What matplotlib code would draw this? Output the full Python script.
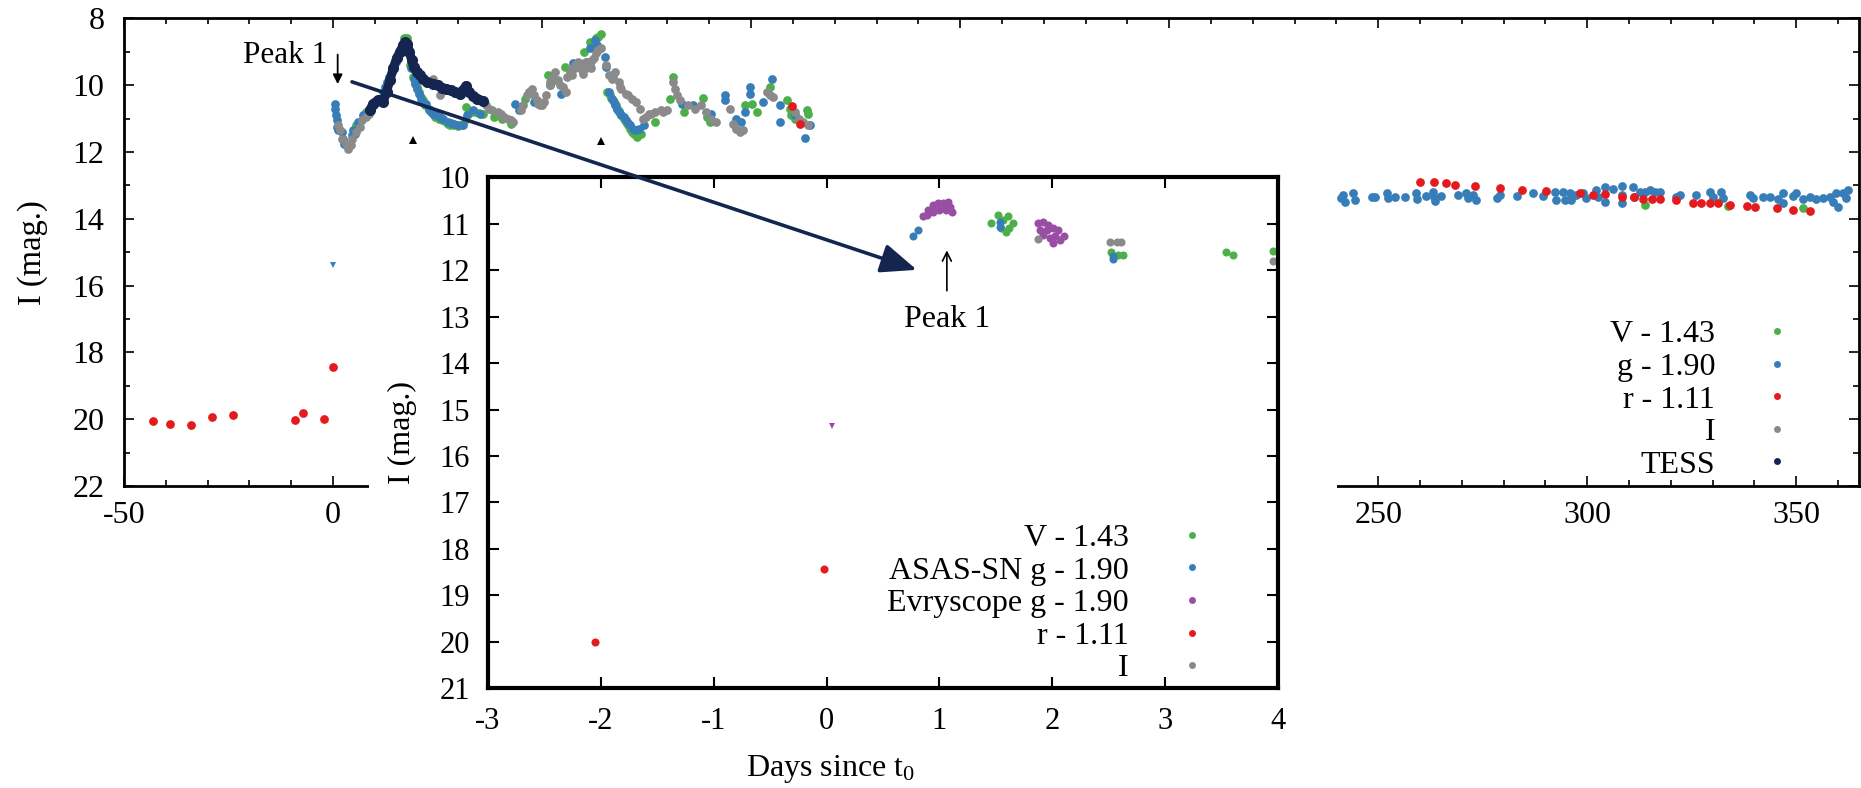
import matplotlib.pyplot as plt
from matplotlib.lines import Line2D
from matplotlib.patches import Rectangle, ConnectionPatch, ArrowStyle
from matplotlib.ticker import MultipleLocator

plt.rcParams['font.family'] = ['Liberation Serif', 'DejaVu Serif']
plt.rcParams['mathtext.default'] = 'regular'
plt.rcParams['axes.unicode_minus'] = False

# --- full light curve (days since t0, magnitude) ---
v_main = [(5.5, 11.2), (8.0, 10.8), (9.8, 10.5), (11.0, 10.4), (13.0, 9.95), (14.5, 9.5), (16.0, 8.95),
          (17.0, 8.6), (17.6, 8.6), (18.5, 9.4), (19.2, 9.75), (19.6, 9.9), (20.0, 10.05), (20.6, 10.2),
          (21.0, 10.35), (21.5, 10.45), (22.0, 10.6), (23.0, 10.75), (24.5, 10.95), (25.3, 11.0), (26.0, 11.05),
          (27.0, 11.1), (27.5, 11.15), (28.0, 11.18), (29.0, 11.2), (29.8, 11.22), (30.5, 11.2), (31.5, 11.05),
          (31.9, 10.65), (32.3, 10.85), (33.0, 10.8), (34.0, 10.8), (35.0, 10.82), (36.0, 10.85), (38.5, 10.95),
          (40.5, 11.0), (42.5, 11.15), (46.0, 10.4), (47.0, 10.2), (51.5, 9.7), (53.0, 9.85), (55.5, 9.45),
          (60.0, 9.0), (61.5, 8.7), (62.0, 8.75), (62.8, 8.6), (63.5, 8.55), (64.0, 8.48), (65.5, 10.2),
          (66.2, 10.3), (66.6, 10.38), (67.0, 10.45), (67.6, 10.58), (68.0, 10.7), (68.4, 10.78), (69.0, 10.9),
          (69.5, 11.0), (70.0, 11.1), (70.5, 11.2), (71.0, 11.3), (71.5, 11.4), (72.0, 11.45), (72.8, 11.55),
          (73.6, 11.45), (77.0, 11.1), (80.6, 10.4), (81.4, 9.75), (84.0, 10.8), (88.5, 10.37), (89.5, 10.95),
          (90.2, 11.1), (98.5, 10.6), (100.3, 10.55), (101.3, 10.8), (104.5, 10.05), (108.5, 10.45),
          (109.2, 10.7), (109.5, 10.9), (110.5, 11.0), (113.3, 10.75), (113.6, 10.85)]
g_main = [(0.5, 10.55), (0.6, 10.7), (0.7, 10.9), (0.9, 11.05), (1.0, 11.25), (1.3, 11.35), (2.1, 11.4),
          (2.4, 11.6), (2.7, 11.75), (4.5, 11.5), (4.9, 11.35), (5.3, 11.45), (6.0, 11.1), (7.2, 10.9),
          (9.5, 10.6), (10.5, 10.5), (11.0, 10.4), (12.0, 10.2), (12.5, 10.05), (13.0, 9.9), (13.5, 9.75),
          (14.0, 9.6), (14.5, 9.45), (15.0, 9.3), (15.5, 9.15), (16.0, 9.0), (16.4, 8.9), (16.8, 8.8),
          (18.6, 9.5), (19.3, 9.8), (19.7, 9.95), (20.0, 10.1), (20.5, 10.25), (21.0, 10.4), (21.5, 10.5),
          (22.3, 10.55), (23.0, 10.7), (23.5, 10.8), (24.0, 10.85), (24.7, 10.9), (25.5, 10.95), (26.3, 11.0),
          (27.5, 11.1), (28.3, 11.13), (29.0, 11.15), (30.0, 11.18), (31.1, 11.2), (32.0, 10.9), (33.5, 10.75),
          (35.1, 10.85), (43.5, 10.55), (44.5, 10.75), (48.0, 10.5), (52.0, 10.0), (54.5, 10.25), (57.5, 9.35),
          (60.5, 9.3), (61.4, 8.9), (62.6, 8.65), (63.2, 8.8), (65.0, 9.15), (65.2, 9.45), (66.0, 10.2),
          (66.8, 10.4), (67.2, 10.5), (67.5, 10.6), (68.0, 10.7), (68.5, 10.8), (69.0, 10.88), (69.5, 10.95),
          (70.0, 11.05), (70.5, 11.12), (71.0, 11.2), (71.8, 11.3), (72.5, 11.35), (73.2, 11.3), (74.5, 11.2),
          (83.5, 10.55), (86.0, 10.6), (90.5, 10.85), (93.7, 10.3), (93.8, 10.45), (96.5, 11.0), (97.5, 11.1),
          (98.5, 10.8), (99.7, 10.05), (99.8, 10.25), (102.9, 10.5), (104.9, 9.8), (106.9, 10.6),
          (107.0, 11.1), (110.5, 10.9), (112.9, 11.59), (114.0, 11.2)]
g_limit = [(0.0, 15.38)]
i_main = [(1.2, 11.2), (1.6, 11.35), (2.2, 11.6), (3.0, 11.75), (3.3, 11.8), (3.6, 11.9), (4.2, 11.8),
          (4.6, 11.6), (5.5, 11.4), (6.4, 11.25), (7.0, 11.05), (7.8, 10.95), (8.5, 10.85), (24.0, 9.8),
          (24.8, 10.0), (25.5, 10.3), (26.5, 10.1), (36.7, 10.6), (37.3, 10.7), (38.0, 10.75), (39.5, 10.8),
          (40.2, 10.85), (41.0, 10.95), (41.8, 11.0), (42.5, 11.05), (43.1, 11.1), (45.0, 10.75), (45.5, 10.6),
          (46.3, 10.3), (46.8, 10.2), (47.5, 10.1), (48.0, 10.3), (48.7, 10.45), (49.0, 10.55), (49.5, 10.6),
          (50.0, 10.6), (50.5, 10.5), (51.0, 10.3), (51.8, 10.0), (52.0, 9.9), (52.5, 9.8), (53.2, 9.6),
          (53.8, 9.85), (54.2, 10.0), (55.0, 10.05), (55.8, 10.2), (56.0, 9.75), (56.6, 9.6), (57.0, 9.55),
          (57.2, 9.7), (57.8, 9.5), (58.0, 9.4), (58.5, 9.3), (59.0, 9.45), (59.5, 9.55), (59.8, 9.65),
          (60.0, 9.35), (60.5, 9.5), (61.0, 9.3), (61.5, 9.4), (61.8, 9.5), (62.0, 9.25), (62.5, 9.2),
          (63.0, 9.05), (63.3, 8.95), (64.0, 8.9), (65.4, 9.4), (66.0, 9.7), (66.8, 9.8), (67.0, 9.75),
          (67.5, 9.6), (68.3, 9.9), (68.6, 10.05), (69.0, 10.1), (70.0, 10.25), (70.6, 10.3), (71.5, 10.4),
          (72.5, 10.5), (73.4, 10.7), (74.2, 11.0), (74.8, 10.95), (75.5, 10.85), (76.0, 10.85), (77.0, 10.8),
          (78.5, 10.75), (79.0, 10.8), (80.0, 10.75), (81.4, 9.9), (81.8, 10.1), (82.2, 10.3), (83.0, 10.45),
          (85.0, 10.6), (86.5, 10.7), (88.0, 10.6), (89.3, 10.8), (90.5, 11.0), (91.5, 11.1), (94.9, 10.7),
          (95.7, 11.15), (96.5, 11.3), (97.3, 11.4), (98.1, 11.35), (103.7, 10.2), (104.5, 10.3),
          (105.3, 10.35), (110.5, 10.8), (111.5, 11.0), (112.5, 11.1), (113.5, 11.2)]
r_main = [(-43.1, 20.04), (-38.9, 20.15), (-34.0, 20.18), (-29.0, 19.93), (-24.0, 19.88), (-9.1, 20.02),
          (-7.1, 19.81), (-2.1, 20.0), (0.0, 18.44), (109.9, 10.61), (111.8, 11.17)]
tess = [(8.8, 10.75), (9.6, 10.55), (10.8, 10.45), (12.0, 10.5), (12.8, 10.2), (13.6, 9.85), (14.4, 9.5),
        (15.2, 9.2), (16.0, 9.0), (16.8, 8.8), (17.3, 8.72), (17.8, 8.78), (18.3, 9.0), (18.8, 9.25),
        (19.3, 9.45), (20.0, 9.6), (20.7, 9.7), (21.5, 9.8), (22.5, 9.9), (24.0, 9.95), (25.0, 10.0),
        (26.0, 10.08), (27.1, 10.1), (28.2, 10.15), (29.2, 10.2), (30.3, 10.25), (31.0, 10.15), (31.9, 10.02),
        (32.5, 10.2), (33.5, 10.33), (34.5, 10.4), (35.9, 10.47)]

# late-time plateau
g_late = [(241.2, 13.39), (241.6, 13.29), (242.0, 13.49), (244.0, 13.24), (244.4, 13.44), (248.4, 13.34),
          (249.2, 13.34), (252.0, 13.24), (252.4, 13.39), (254.0, 13.34), (256.3, 13.36), (259.1, 13.22),
          (259.3, 13.42), (261.5, 13.32), (263.1, 13.19), (263.3, 13.36), (263.5, 13.46), (265.1, 13.32),
          (269.1, 13.29), (271.1, 13.22), (271.5, 13.39), (272.7, 13.29), (273.5, 13.44), (278.3, 13.39),
          (279.1, 13.29), (283.1, 13.32), (287.0, 13.24), (289.4, 13.32), (292.2, 13.19), (292.6, 13.44),
          (294.2, 13.19), (294.6, 13.44), (295.8, 13.24), (296.2, 13.44), (297.4, 13.29), (299.0, 13.22),
          (299.8, 13.39), (302.2, 13.14), (302.6, 13.34), (304.2, 13.04), (304.2, 13.49), (306.2, 13.12),
          (308.2, 13.02), (308.2, 13.29), (308.2, 13.54), (311.0, 13.06), (311.1, 13.34), (312.6, 13.19),
          (313.8, 13.19), (315.0, 13.14), (316.2, 13.19), (317.4, 13.19), (321.3, 13.34), (322.1, 13.29),
          (326.1, 13.29), (329.3, 13.19), (330.1, 13.34), (332.1, 13.19), (332.5, 13.39), (338.9, 13.29),
          (339.7, 13.39), (342.1, 13.36), (343.7, 13.34), (345.7, 13.42), (346.9, 13.24), (346.9, 13.54),
          (349.3, 13.32), (350.0, 13.24), (351.6, 13.42), (353.2, 13.34), (354.8, 13.42), (356.4, 13.39),
          (358.0, 13.34), (358.8, 13.49), (359.6, 13.22), (360.0, 13.64), (361.2, 13.24), (362.0, 13.39),
          (362.4, 13.14)]
r_late = [(260.1, 12.89), (263.3, 12.89), (266.2, 12.94), (268.3, 12.99), (273.2, 13.01), (279.2, 13.07),
          (284.3, 13.14), (290.2, 13.17), (298.2, 13.24), (301.4, 13.29), (304.3, 13.27), (308.3, 13.34),
          (311.2, 13.36), (313.4, 13.40), (315.4, 13.40), (317.3, 13.40), (321.3, 13.44), (325.3, 13.54),
          (327.3, 13.54), (329.3, 13.54), (331.3, 13.54), (334.1, 13.59), (338.1, 13.62), (340.2, 13.64),
          (345.3, 13.69), (349.2, 13.74), (353.2, 13.77)]
v_late = [(313.8, 13.59), (333.7, 13.62), (351.6, 13.69)]

peak_marks = [(19.2, 11.65), (64.0, 11.67)]

# --- zoom on the first days ---
v_in = [(1.46, 10.99), (1.52, 10.81), (1.56, 10.92), (1.61, 10.84), (1.62, 11.09), (1.65, 10.99),
        (1.59, 11.17), (1.55, 11.09), (2.52, 11.60), (2.58, 11.67), (2.63, 11.67), (3.54, 11.60),
        (3.60, 11.67), (3.96, 11.58)]
asas_in = [(0.767, 11.27), (0.812, 11.13), (1.54, 10.95), (1.54, 11.06), (2.54, 11.69), (2.54, 11.76)]
evry_in = [(0.856, 10.84), (0.90, 10.70), (0.94, 10.59), (0.99, 10.56), (1.03, 10.56), (1.08, 10.52),
           (1.09, 10.63), (1.11, 10.74), (1.06, 10.70), (1.00, 10.70), (0.94, 10.74), (0.89, 10.81),
           (1.05, 10.63), (1.87, 10.99), (1.92, 10.95), (1.96, 11.02), (2.01, 11.09), (2.05, 11.13),
           (2.10, 11.27), (2.07, 11.35), (2.01, 11.42), (1.98, 11.31), (1.92, 11.24), (1.89, 11.13),
           (1.95, 11.13), (2.02, 11.27)]
evry_limit = [(0.05, 15.35)]
r_in = [(-2.05, 20.0), (-0.02, 18.44)]
i_in = [(1.87, 11.33), (2.51, 11.38), (2.57, 11.38), (2.61, 11.40), (3.96, 11.81)]

main_labels = ['V - 1.43', 'g - 1.90', 'r - 1.11', 'I', 'TESS']
inset_labels = ['V - 1.43', 'ASAS-SN g - 1.90', 'Evryscope g - 1.90', 'r - 1.11', 'I']

green, blue, red, grey, purple, navy = '#4daf4a', '#377eb8', '#e41a1c', '#8a8a8a', '#984ea3', '#14264f'
ms_main = 6.3
ms_in = 5.8


def xy(points):
    return [p[0] for p in points], [p[1] for p in points]


fig = plt.figure(figsize=(18.61, 7.88), dpi=100)

# main panel
ax = fig.add_axes([0.0666, 0.38325, 0.93233, 0.5934])
ax.set_zorder(1)
ax.plot(*xy(v_main + v_late), 'o', color=green, ms=ms_main, mew=0)
ax.plot(*xy(g_main + g_late), 'o', color=blue, ms=ms_main, mew=0)
ax.plot(*xy(g_limit), 'v', color=blue, ms=5, mew=0)
ax.plot(*xy(i_main), 'o', color=grey, ms=ms_main, mew=0)
ax.plot(*xy(r_main + r_late), 'o', color=red, ms=ms_main, mew=0)
ax.plot(*xy(tess), '-o', color=navy, ms=8, lw=6.5, mew=0,
        solid_capstyle='round', solid_joinstyle='round')
ax.plot(*xy(peak_marks), '^', color='k', ms=6, mew=0)

ax.set_xlim(-50, 365)
ax.set_ylim(22, 8)
ax.xaxis.set_major_locator(MultipleLocator(50))
ax.xaxis.set_minor_locator(MultipleLocator(10))
ax.yaxis.set_major_locator(MultipleLocator(2))
ax.yaxis.set_minor_locator(MultipleLocator(1))
ax.tick_params(which='both', direction='in', top=True, right=True, width=1.2, labelsize=23)
ax.tick_params(which='major', length=7)
ax.tick_params(which='minor', length=4)
ax.tick_params(axis='x', pad=11)
ax.tick_params(axis='y', pad=14)
for s in ax.spines.values():
    s.set_linewidth(2)

ax.text(-1.3, 9.34, 'Peak 1', ha='right', va='baseline', fontsize=22.5)
ax.annotate('', xy=(1.12, 10.05), xytext=(1.12, 9.0),
            arrowprops=dict(arrowstyle='-|>', color='k', lw=1.3, mutation_scale=14))

main_handles = [Line2D([], [], ls='', marker='o', ms=5, mew=0, color=c)
                for c in (green, blue, red, grey, navy)]
ax.legend(main_handles, main_labels, loc='center right', bbox_to_anchor=(353.1, 19.42),
          bbox_transform=ax.transData, frameon=False, markerfirst=False, fontsize=23,
          handlelength=2, handletextpad=0.95, labelspacing=0.1, borderpad=0, borderaxespad=0)

# white backing for the zoom panel
fig.add_artist(Rectangle((369 / 1861, 0), (1337 - 369) / 1861, (788 - 170) / 788,
                         transform=fig.transFigure, facecolor='white', edgecolor='none', zorder=2))

# zoom panel
axin = fig.add_axes([0.26222, 0.12690, 0.42451, 0.64785])
axin.set_zorder(3)
axin.plot(*xy(v_in), 'o', color=green, ms=ms_in, mew=0)
axin.plot(*xy(asas_in), 'o', color=blue, ms=ms_in, mew=0)
axin.plot(*xy(evry_in), 'o', color=purple, ms=ms_in, mew=0)
axin.plot(*xy(evry_limit), 'v', color=purple, ms=5, mew=0)
axin.plot(*xy(r_in), 'o', color=red, ms=ms_in, mew=0)
axin.plot(*xy(i_in), 'o', color=grey, ms=ms_in, mew=0)

axin.set_xlim(-3, 4)
axin.set_ylim(21, 10)
axin.xaxis.set_major_locator(MultipleLocator(1))
axin.yaxis.set_major_locator(MultipleLocator(1))
axin.tick_params(direction='in', top=True, right=True, length=8, width=1.5, labelsize=22)
axin.tick_params(axis='x', pad=14)
axin.tick_params(axis='y', pad=13)
for s in axin.spines.values():
    s.set_linewidth(3)

axin.text(1.066, 13.23, 'Peak 1', ha='center', va='baseline', fontsize=23)
axin.annotate('', xy=(1.066, 11.51), xytext=(1.066, 12.5),
              arrowprops=dict(arrowstyle='->', color='k', lw=1.2, mutation_scale=16))

inset_handles = [Line2D([], [], ls='', marker='o', ms=5, mew=0, color=c)
                 for c in (green, blue, purple, red, grey)]
axin.legend(inset_handles, inset_labels, loc='center right', bbox_to_anchor=(3.52, 19.18),
            bbox_transform=axin.transData, frameon=False, markerfirst=False, fontsize=23,
            handlelength=2, handletextpad=0.97, labelspacing=0.1, borderpad=0, borderaxespad=0)

fig.text(33 / 1861, 1 - 253 / 788, 'I (mag.)', rotation=90, ha='center', va='center',
         fontsize=23.5, zorder=4)
fig.text(402 / 1861, 1 - 432 / 788, 'I (mag.)', rotation=90, ha='center', va='center',
         fontsize=23, zorder=4)
fig.text(831 / 1861, 1 - 769 / 788, 'Days since t$_0$', ha='center', va='center',
         fontsize=23, zorder=4)

# arrow from the first peak down into the zoom panel
con = ConnectionPatch(xyA=(4.55, 9.9), coordsA=ax.transData, xyB=(0.80, 11.99), coordsB=axin.transData,
                      arrowstyle=ArrowStyle('-|>', head_length=1.1, head_width=0.45), mutation_scale=20,
                      lw=2.6, color=navy, zorder=6)
fig.add_artist(con)

fig.savefig('out.png', dpi=100)
